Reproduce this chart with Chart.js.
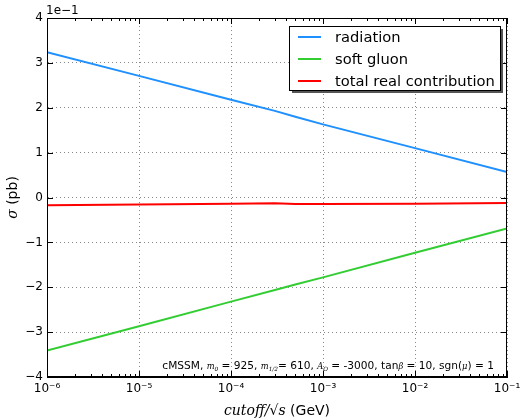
<!DOCTYPE html>
<html><head><meta charset="utf-8">
<script src="https://cdn.jsdelivr.net/npm/chart.js@4"></script>
<style>html,body{margin:0;padding:0;background:#fff}#wrap{width:521px;height:419px}</style>
</head><body><div id="wrap"><canvas id="c" width="521" height="419"></canvas></div>
<script>
// ---- data (sigma in units of 1e-1 pb) ----
const cutoff     = [1e-6, 1e-5, 1e-4, 3e-4, 5e-4, 1e-3, 1e-2, 1e-1];
const radiation  = [3.24, 2.71, 2.18, 1.93, 1.80, 1.63, 1.10, 0.57];
const softGluon  = [-3.41, -2.87, -2.32, -2.06, -1.94, -1.78, -1.23, -0.69];
const totalReal  = [-0.17, -0.155, -0.14, -0.13, -0.145, -0.145, -0.14, -0.12];
const seriesNames = ['radiation', 'soft gluon', 'total real contribution'];
const seriesColors = ['#1e90ff', '#32cd32', '#ff0000'];
const xTicks = [1e-6, 1e-5, 1e-4, 1e-3, 1e-2, 1e-1];
const xTickLabels = ['10\u207B\u2076', '10\u207B\u2075', '10\u207B\u2074', '10\u207B\u00B3', '10\u207B\u00B2', '10\u207B\u00B9'];
const yTicks = [-4, -3, -2, -1, 0, 1, 2, 3, 4];
const offsetLabel = '1e\u22121';

const mk = (vals) => cutoff.map((x, i) => ({x: x, y: vals[i]}));
const seriesVals = [radiation, softGluon, totalReal];

const SANS = '"DejaVu Sans", sans-serif';
const SERIF = '"DejaVu Serif", "Liberation Serif", serif';

function segFont(s, size) {
  let fs = size;
  if (s.m) fs = size * s.m;
  if (s.sub) fs = fs * 0.7;
  return (s.it ? 'italic ' : '') + fs.toFixed(1) + 'px ' + (s.it ? SERIF : SANS);
}
function drawSegs(ctx, segs, x, y, size) {
  let cx = x;
  for (const s of segs) {
    ctx.font = segFont(s, size);
    const yy = s.sub ? y + size * 0.2 : y;
    ctx.fillText(s.t, cx, yy);
    cx += ctx.measureText(s.t).width;
  }
  return cx - x;
}
function measureSegs(ctx, segs, size) {
  let w = 0;
  for (const s of segs) {
    ctx.font = segFont(s, size);
    w += ctx.measureText(s.t).width;
  }
  return w;
}

const decor = {
  id: 'decor',
  afterDraw(chart) {
    const ctx = chart.ctx;
    const a = chart.chartArea;
    const xs = chart.scales.x, ys = chart.scales.y;
    ctx.save();
    // frame
    ctx.strokeStyle = '#000';
    ctx.lineWidth = 1;
    ctx.strokeRect(Math.round(a.left) + 0.5, Math.round(a.top) + 0.5, Math.round(a.right - a.left) - 1, Math.round(a.bottom - a.top) - 1);
    // x ticks (major + minor, inward, top & bottom)
    ctx.beginPath();
    for (let d = -6; d <= -1; d++) {
      for (let k = 1; k <= 9; k++) {
        const v = k * Math.pow(10, d);
        if (v > 1e-1 * 1.0001) break;
        const px = Math.round(xs.getPixelForValue(v)) + 0.5;
        const len = k === 1 ? 6 : 3;
        ctx.moveTo(px, a.bottom); ctx.lineTo(px, a.bottom - len);
        ctx.moveTo(px, a.top); ctx.lineTo(px, a.top + len);
      }
    }
    for (const v of yTicks) {
      const py = Math.round(ys.getPixelForValue(v)) + 0.5;
      ctx.moveTo(a.left, py); ctx.lineTo(a.left + 6, py);
      ctx.moveTo(a.right, py); ctx.lineTo(a.right - 6, py);
    }
    ctx.stroke();

    // offset label
    ctx.fillStyle = '#000';
    ctx.font = '12px ' + SANS;
    ctx.textAlign = 'left';
    ctx.textBaseline = 'alphabetic';
    ctx.fillText(offsetLabel, a.left - 1, a.top - 4);

    // legend
    const lx = 289, ly = 26, lw = 211, lh = 64;
    ctx.fillStyle = '#555';
    ctx.fillRect(lx + 3, ly + 3, lw, lh);
    ctx.fillStyle = '#fff';
    ctx.fillRect(lx, ly, lw, lh);
    ctx.strokeStyle = '#000';
    ctx.lineWidth = 1;
    ctx.strokeRect(lx + 0.5, ly + 0.5, lw, lh);
    chart.data.datasets.forEach((ds, i) => {
      const ry = 37 + i * 22;
      ctx.strokeStyle = ds.borderColor;
      ctx.lineWidth = 2;
      ctx.beginPath(); ctx.moveTo(298, ry); ctx.lineTo(321, ry); ctx.stroke();
      ctx.fillStyle = '#000';
      ctx.font = '14.7px ' + SANS;
      ctx.textBaseline = 'middle';
      ctx.fillText(ds.label, 335, ry + 1);
    });

    // annotation
    ctx.textBaseline = 'alphabetic';
    ctx.fillStyle = '#000';
    const M = 0.78;
    const segs = [
      {t: 'cMSSM, '}, {t: 'm', it: 1, m: M}, {t: '0', sub: 1, it: 1, m: M}, {t: ' = 925, '},
      {t: 'm', it: 1, m: M}, {t: '1/2', sub: 1, it: 1, m: M}, {t: '= 610, '},
      {t: 'A', it: 1, m: M}, {t: 'O', sub: 1, it: 1, m: M}, {t: ' = -3000, tan'}, {t: '\u03B2', it: 1, m: M},
      {t: ' = 10, sgn('}, {t: '\u03BC', it: 1, m: M}, {t: ') = 1'}
    ];
    const aw = measureSegs(ctx, segs, 10.6);
    drawSegs(ctx, segs, 494 - aw, 369, 10.6);

    // x title
    const xt = [{t: 'cutoff/\u221As', it: 1}, {t: ' (GeV)'}];
    const xw = measureSegs(ctx, xt, 14);
    drawSegs(ctx, xt, (a.left + a.right) / 2 - xw / 2, 415, 14);

    // y title
    ctx.save();
    ctx.translate(17, (a.top + a.bottom) / 2);
    ctx.rotate(-Math.PI / 2);
    const yt = [{t: '\u03C3', it: 1}, {t: ' (pb)'}];
    const yw = measureSegs(ctx, yt, 14);
    drawSegs(ctx, yt, -yw / 2, 0, 14);
    ctx.restore();

    ctx.restore();
  }
};

new Chart(document.getElementById('c'), {
  type: 'line',
  data: {
    datasets: seriesNames.map((n, i) => ({
      label: n,
      data: mk(seriesVals[i]),
      borderColor: seriesColors[i],
      backgroundColor: seriesColors[i],
      borderWidth: 2,
      pointRadius: 0,
      tension: 0,
      fill: false
    }))
  },
  options: {
    responsive: false,
    animation: false,
    events: [],
    layout: {padding: {top: 18, right: 14, left: 0, bottom: 0}},
    plugins: {legend: {display: false}, tooltip: {enabled: false}},
    scales: {
      x: {
        type: 'logarithmic', min: 1e-6, max: 1e-1,
        afterBuildTicks: s => { s.ticks = xTicks.map(v => ({value: v})); },
        afterFit: s => { s.height = 42; s.paddingLeft = 0; s.paddingRight = 0; },
        ticks: {
          callback: (v, i) => xTickLabels[i],
          color: '#000', font: {family: SANS, size: 12}, padding: 5,
          maxRotation: 0, autoSkip: false
        },
        grid: {color: '#888', lineWidth: 1, drawTicks: false},
        border: {display: true, color: '#000', dash: [1, 3]}
      },
      y: {
        type: 'linear', min: -4, max: 4,
        afterBuildTicks: s => { s.ticks = yTicks.map(v => ({value: v})); },
        afterFit: s => { s.width = 47; s.paddingTop = 0; s.paddingBottom = 0; },
        ticks: {
          callback: v => (v < 0 ? '\u2212' + Math.abs(v) : String(v)),
          color: '#000', font: {family: SANS, size: 12}, padding: 4
        },
        grid: {color: '#888', lineWidth: 1, drawTicks: false},
        border: {display: true, color: '#000', dash: [1, 3]}
      }
    }
  },
  plugins: [decor]
});
</script>
</body></html>
